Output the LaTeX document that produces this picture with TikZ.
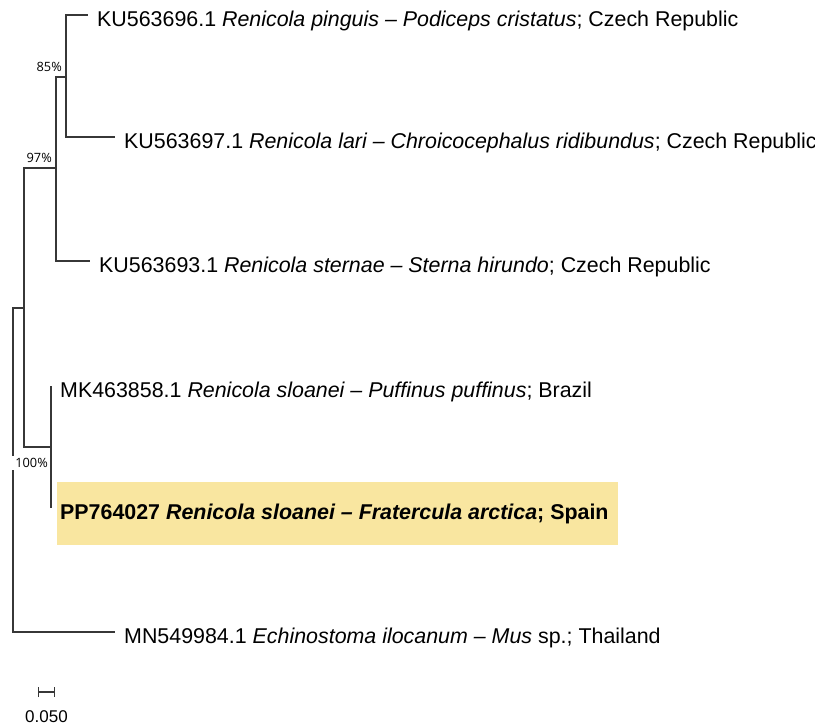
\documentclass[tikz,border=0pt]{standalone}
\usepackage{fontspec}
\setmainfont{Liberation Sans}
\newfontfamily\supportfont{Open Sans}
\usetikzlibrary{arrows.meta}
\definecolor{hlyellow}{RGB}{249,230,160}
\definecolor{branchgray}{RGB}{55,55,55}
\tikzset{
  branch/.style={draw=branchgray, line width=1.25pt},
  leaf/.style={anchor=base west, inner sep=0pt, xshift=9pt, yshift=-11.6pt,
    font=\fontsize{21.4}{25}\selectfont},
  support/.style={anchor=east, inner sep=2pt,
    font=\supportfont\fontsize{12.8}{14}\selectfont},
}

\begin{document}
\begin{tikzpicture}[x=1pt, y=-1pt]
    \useasboundingbox (0,0) rectangle (815,727);

    % Highlight of the new sequence
    \fill[hlyellow] (57,482) rectangle (618,545);

    % Internal nodes
    \coordinate (root) at (13,470);
    \coordinate (nA) at (24,308);
    \coordinate (nB) at (56,168);
    \coordinate (nC) at (66,77);
    \coordinate (nD) at (51,447);

    % Tips
    \coordinate (tip1) at (88,15);
    \coordinate (tip2) at (115,137);
    \coordinate (tip3) at (90,261);
    \coordinate (tip4) at (51,386);
    \coordinate (tip5) at (51,508);
    \coordinate (tip6) at (115,632);

    % Leaf labels
    \node[leaf] (leaf1) at (tip1) {KU563696.1 \textit{Renicola pinguis – Podiceps cristatus}; Czech Republic};
    \node[leaf] (leaf2) at (tip2) {KU563697.1 \textit{Renicola lari – Chroicocephalus ridibundus}; Czech Republic};
    \node[leaf] (leaf3) at (tip3) {KU563693.1 \textit{Renicola sternae – Sterna hirundo}; Czech Republic};
    \node[leaf] (leaf4) at (tip4) {MK463858.1 \textit{Renicola sloanei – Puffinus puffinus}; Brazil};
    \node[leaf] (leaf5) at (tip5) {\bfseries PP764027 \textit{Renicola sloanei – Fratercula arctica}; Spain};
    \node[leaf] (leaf6) at (tip6) {MN549984.1 \textit{Echinostoma ilocanum – Mus} sp.; Thailand};

    % Root branches
    \draw[branch] (root) |- (nA);
    \draw[branch] (root) |- (tip6);

    % Support values
    \node[support, fill=white, inner xsep=5pt, xshift=2pt, yshift=-16pt] (bs100) at (nD) {100\%};
    \node[support, xshift=-2pt, yshift=10pt] (bs97) at (nB) {97\%};
    \node[support, xshift=-2pt, yshift=10pt] (bs85) at (nC) {85\%};

    % Branches
    \draw[branch] (nA) |- (nB);
    \draw[branch] (nA) |- (nD);
    \draw[branch] (nB) |- (nC);
    \draw[branch] (nB) |- (tip3);
    \draw[branch] (nC) |- (tip1);
    \draw[branch] (nC) |- (tip2);
    \draw[branch] (nD) |- (tip4);
    \draw[branch] (nD) |- (tip5);

    % Scale bar
    \coordinate (sbL) at (38,692);
    \coordinate (sbR) at (55,692);
    \draw[branch, {Bar[width=10pt]}-{Bar[width=10pt]}] (sbL) -- (sbR);
    \node[font=\fontsize{17}{20}\selectfont] (sblabel) at (46.5,717) {0.050};
\end{tikzpicture}
\end{document}
